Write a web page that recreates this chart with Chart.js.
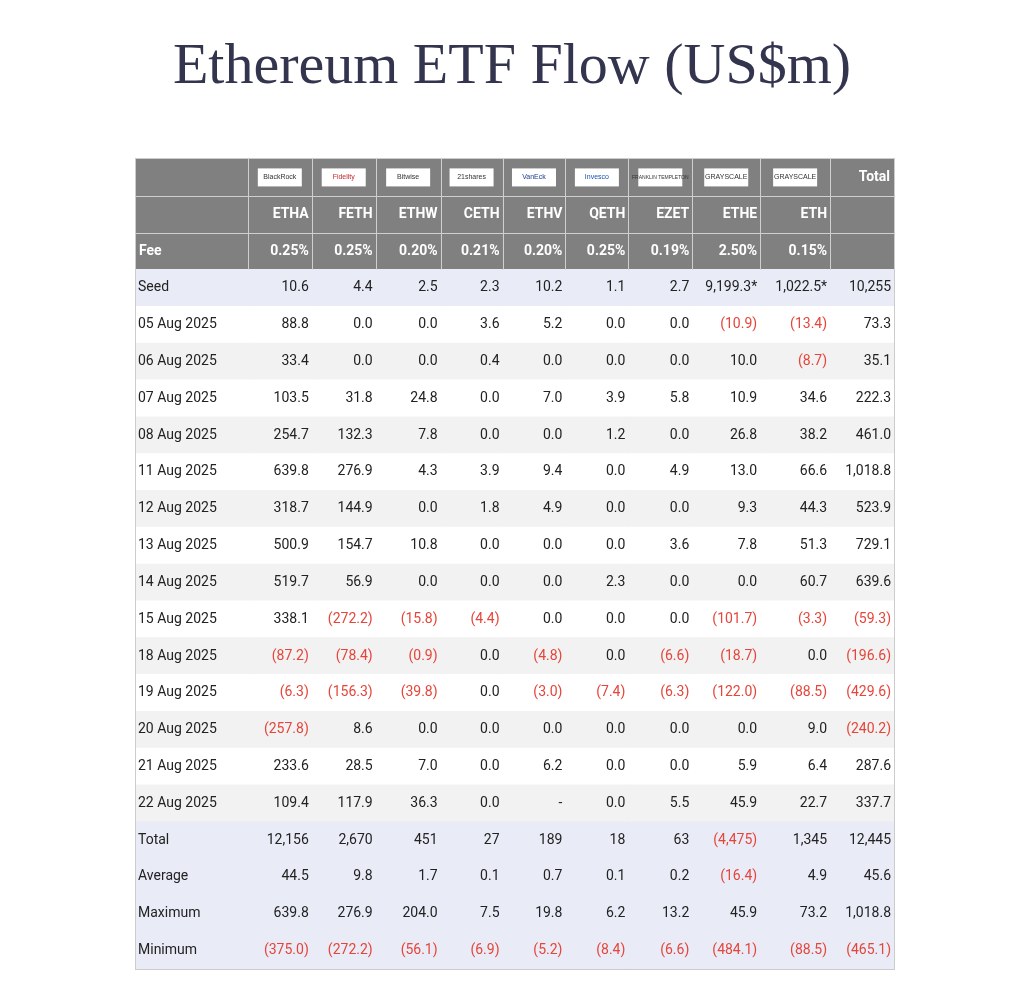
<!DOCTYPE html>
<html>
<head>
<meta charset="utf-8">
<script src="https://cdn.jsdelivr.net/npm/chart.js@4"></script>
<style>
  body { margin: 0; background: #fff; width: 1024px; height: 994px; position: relative; }
  h1 { position: absolute; top: 30px; left: 0; width: 1024px; margin: 0; text-align: center;
       font-family: "Liberation Serif", serif; font-weight: normal; font-size: 58px; color: #33354f; }
  #wrap { position: absolute; left: 135px; top: 158px; width: 760px; height: 812px; border: 1px solid #ccc; box-sizing: border-box; }
</style>
</head>
<body>
<h1>Ethereum ETF Flow (US$m)</h1>
<div id="wrap"><canvas id="table"></canvas></div>
<script>
const issuers = ["BlackRock", "Fidelity", "Bitwise", "21shares", "VanEck", "Invesco", "FRANKLIN TEMPLETON", "GRAYSCALE", "GRAYSCALE"];
const tickers = ["ETHA", "FETH", "ETHW", "CETH", "ETHV", "QETH", "EZET", "ETHE", "ETH"];
const fees = ["0.25%", "0.25%", "0.20%", "0.21%", "0.20%", "0.25%", "0.19%", "2.50%", "0.15%"];
const rowLabels = ["Seed", "05 Aug 2025", "06 Aug 2025", "07 Aug 2025", "08 Aug 2025", "11 Aug 2025", "12 Aug 2025",
  "13 Aug 2025", "14 Aug 2025", "15 Aug 2025", "18 Aug 2025", "19 Aug 2025", "20 Aug 2025", "21 Aug 2025",
  "22 Aug 2025", "Total", "Average", "Maximum", "Minimum"];

const etha = ["10.6","88.8","33.4","103.5","254.7","639.8","318.7","500.9","519.7","338.1","(87.2)","(6.3)","(257.8)","233.6","109.4","12,156","44.5","639.8","(375.0)"];
const feth = ["4.4","0.0","0.0","31.8","132.3","276.9","144.9","154.7","56.9","(272.2)","(78.4)","(156.3)","8.6","28.5","117.9","2,670","9.8","276.9","(272.2)"];
const ethw = ["2.5","0.0","0.0","24.8","7.8","4.3","0.0","10.8","0.0","(15.8)","(0.9)","(39.8)","0.0","7.0","36.3","451","1.7","204.0","(56.1)"];
const ceth = ["2.3","3.6","0.4","0.0","0.0","3.9","1.8","0.0","0.0","(4.4)","0.0","0.0","0.0","0.0","0.0","27","0.1","7.5","(6.9)"];
const ethv = ["10.2","5.2","0.0","7.0","0.0","9.4","4.9","0.0","0.0","0.0","(4.8)","(3.0)","0.0","6.2","-","189","0.7","19.8","(5.2)"];
const qeth = ["1.1","0.0","0.0","3.9","1.2","0.0","0.0","0.0","2.3","0.0","0.0","(7.4)","0.0","0.0","0.0","18","0.1","6.2","(8.4)"];
const ezet = ["2.7","0.0","0.0","5.8","0.0","4.9","0.0","3.6","0.0","0.0","(6.6)","(6.3)","0.0","0.0","5.5","63","0.2","13.2","(6.6)"];
const ethe = ["9,199.3*","(10.9)","10.0","10.9","26.8","13.0","9.3","7.8","0.0","(101.7)","(18.7)","(122.0)","0.0","5.9","45.9","(4,475)","(16.4)","45.9","(484.1)"];
const eth = ["1,022.5*","(13.4)","(8.7)","34.6","38.2","66.6","44.3","51.3","60.7","(3.3)","0.0","(88.5)","9.0","6.4","22.7","1,345","4.9","73.2","(88.5)"];
const total = ["10,255","73.3","35.1","222.3","461.0","1,018.8","523.9","729.1","639.6","(59.3)","(196.6)","(429.6)","(240.2)","287.6","337.7","12,445","45.6","1,018.8","(465.1)"];

const columns = [etha, feth, ethw, ceth, ethv, qeth, ezet, ethe, eth, total];

// layout: column edges in px within the table
const colEdges = [0, 112, 176, 240, 305, 367, 430, 493, 557, 625, 695, 759];

const headRows = 3;
const nRows = headRows + rowLabels.length;
const yLabels = Array.from({ length: nRows }, (_, i) => "r" + i);

function rowColor(i) {
  if (i < headRows) return "#808080";
  const r = i - headRows;
  if (r === 0 || r >= 15) return "#e9ecf7";
  return r % 2 === 1 ? "#ffffff" : "#f2f2f2";
}

const datasets = [];
for (let c = 0; c < colEdges.length - 1; c++) {
  datasets.push({
    data: yLabels.map(() => [colEdges[c], colEdges[c + 1]]),
    backgroundColor: yLabels.map((_, i) => rowColor(i)),
    borderWidth: 0,
    barPercentage: 1,
    categoryPercentage: 1,
    grouped: false
  });
}

const cellText = {
  id: "cellText",
  afterDatasetsDraw(chart) {
    const ctx = chart.ctx;
    const xs = chart.scales.x, ys = chart.scales.y;
    const rowH = ys.getPixelForValue(1) - ys.getPixelForValue(0);
    ctx.save();
    // header separators
    ctx.strokeStyle = "#cfcfcf";
    ctx.lineWidth = 1;
    const hTop = ys.getPixelForValue(0) - rowH / 2, hBot = ys.getPixelForValue(2) + rowH / 2;
    for (let c = 1; c < colEdges.length - 1; c++) {
      const x = Math.round(xs.getPixelForValue(colEdges[c])) + 0.5;
      ctx.beginPath(); ctx.moveTo(x, hTop); ctx.lineTo(x, hBot); ctx.stroke();
    }
    for (let r = 1; r < headRows; r++) {
      const y = Math.round(ys.getPixelForValue(r) - rowH / 2) + 0.5;
      ctx.beginPath(); ctx.moveTo(xs.getPixelForValue(0), y); ctx.lineTo(xs.getPixelForValue(759), y); ctx.stroke();
    }
    ctx.textBaseline = "middle";
    // issuer logos
    issuers.forEach((name, c) => {
      const cx = (xs.getPixelForValue(colEdges[c + 1]) + xs.getPixelForValue(colEdges[c + 2])) / 2;
      const cy = ys.getPixelForValue(0);
      ctx.fillStyle = "#fff";
      ctx.fillRect(cx - 22, cy - 9, 44, 18);
      ctx.fillStyle = c === 1 ? "#c0282d" : c === 4 ? "#1b3d8f" : c === 5 ? "#1a4fb5" : "#333";
      ctx.font = (name.length > 10 ? "5px" : "7px") + " 'Liberation Sans', sans-serif";
      ctx.textAlign = "center";
      ctx.fillText(name, cx, cy);
    });
    ctx.fillStyle = "#fff";
    ctx.font = "bold 14px Roboto, sans-serif";
    ctx.textAlign = "right";
    ctx.fillText("Total", xs.getPixelForValue(759) - 4, ys.getPixelForValue(0));
    tickers.forEach((t, c) => ctx.fillText(t, xs.getPixelForValue(colEdges[c + 2]) - 3, ys.getPixelForValue(1)));
    fees.forEach((t, c) => ctx.fillText(t, xs.getPixelForValue(colEdges[c + 2]) - 3, ys.getPixelForValue(2)));
    ctx.textAlign = "left";
    ctx.fillText("Fee", xs.getPixelForValue(0) + 3, ys.getPixelForValue(2));
    // body
    ctx.font = "14px Roboto, sans-serif";
    rowLabels.forEach((lab, r) => {
      const y = ys.getPixelForValue(r + headRows);
      ctx.textAlign = "left";
      ctx.fillStyle = "#222";
      ctx.fillText(lab, xs.getPixelForValue(0) + 2, y);
      ctx.textAlign = "right";
      columns.forEach((col, c) => {
        const v = col[r];
        ctx.fillStyle = v.startsWith("(") ? "#e5453a" : "#222";
        ctx.fillText(v, xs.getPixelForValue(colEdges[c + 2]) - 3, y);
      });
    });
    ctx.restore();
  }
};

new Chart(document.getElementById("table"), {
  type: "bar",
  data: { labels: yLabels, datasets: datasets },
  options: {
    indexAxis: "y",
    responsive: true,
    maintainAspectRatio: false,
    animation: false,
    layout: { padding: 0 },
    plugins: { legend: { display: false }, tooltip: { enabled: false } },
    scales: {
      x: { type: "linear", min: 0, max: 759, display: false },
      y: { type: "category", display: false, offset: true }
    }
  },
  plugins: [cellText]
});
</script>
</body>
</html>
